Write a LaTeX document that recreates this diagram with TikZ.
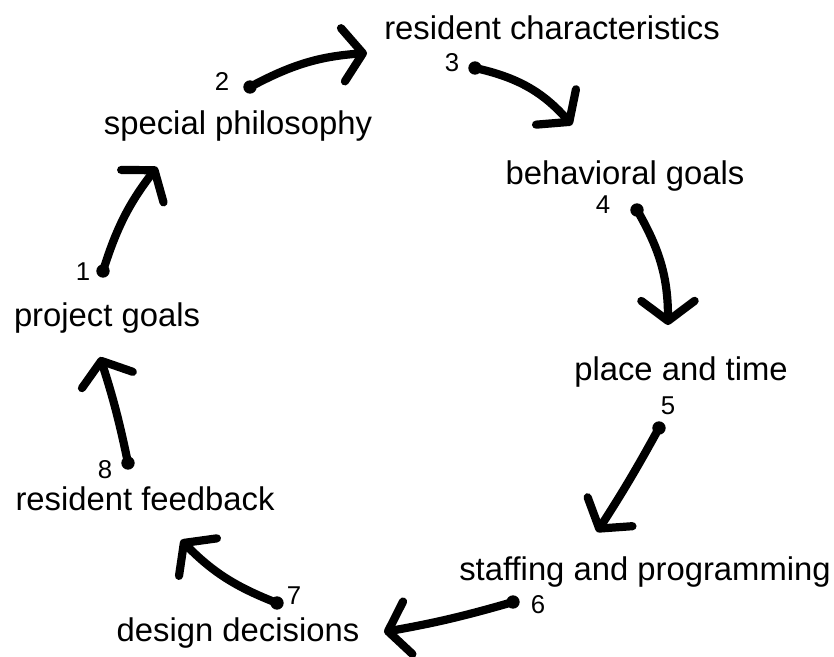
\documentclass[tikz,border=0pt]{standalone}
\usepackage{fontspec}
\setmainfont{Liberation Sans}
\usetikzlibrary{arrows.meta}
\begin{document}
\begin{tikzpicture}[x=0.03cm,y=-0.03cm,
    lbl/.style={anchor=base,inner sep=0pt,font=\fontsize{28}{32}\selectfont},
    num/.style={inner sep=0pt,font=\fontsize{22}{24}\selectfont},
    flow/.style={line width=7pt,line cap=round,-{Straight Barb[length=0.6cm,width=1.6cm,round]}}]
  \useasboundingbox (0,0) rectangle (834,657);
  \node [lbl] (goals) at (107,327) {project goals};
  \node [lbl] (special) at (238,135) {special philosophy};
  \node [lbl] (resident) at (552,40) {resident characteristics};
  \node [lbl] (behav) at (625,185) {behavioral goals};
  \node [lbl] (place) at (681,381) {place and time};
  \node [lbl] (staffing) at (645,580) {staffing and programming};
  \node [lbl] (design) at (238,641) {design decisions};
  \node [lbl] (feedback) at (145,511) {resident feedback};
  \node [num] (n1) at (83,272) {1};
  \node [num] (n2) at (222,82) {2};
  \node [num] (n3) at (452,63) {3};
  \node [num] (n4) at (603,205) {4};
  \node [num] (n5) at (668,406) {5};
  \node [num] (n6) at (538,605) {6};
  \node [num] (n7) at (294,596) {7};
  \node [num] (n8) at (105,470) {8};
  \coordinate (s1) at (103,271); \coordinate (t1) at (157,167);
  \coordinate (s2) at (250,87);  \coordinate (t2) at (367,53);
  \coordinate (s3) at (475,68);  \coordinate (t3) at (572,125);
  \coordinate (s4) at (637,210); \coordinate (t4) at (668,325);
  \coordinate (s5) at (659,428); \coordinate (t5) at (597,532);
  \coordinate (s6) at (513,602); \coordinate (t6) at (384,632);
  \coordinate (s7) at (277,603); \coordinate (t7) at (181,540);
  \coordinate (s8) at (128,463); \coordinate (t8) at (100,357);
  \foreach \i/\b in {1/10,2/12,3/18,4/15,5/2,6/3,7/12,8/-3} {
    \draw [flow] (s\i) to [bend left=\b] (t\i);
    \fill (s\i) circle (0.2cm);
  }
\end{tikzpicture}
\end{document}
